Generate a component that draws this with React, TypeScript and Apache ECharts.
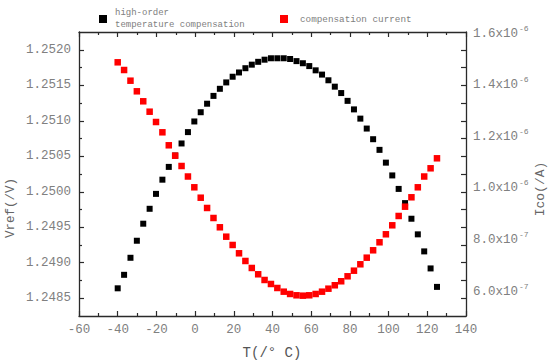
import React, { useEffect, useRef } from "react";
import * as echarts from "echarts";

const temps = [
  -40, -36.7, -33.4, -30.1, -26.8, -23.5, -20.2, -16.9, -13.6, -10.3, -7, -3.7, -0.4, 2.9, 6.2, 9.5, 12.8,
  16.1, 19.4, 22.7, 26, 29.3, 32.6, 35.9, 39.2, 42.5, 45.8, 49.1, 52.4, 55.7, 59, 62.3, 65.6, 68.9, 72.2,
  75.5, 78.8, 82.1, 85.4, 88.7, 92, 95.3, 98.6, 101.9, 105.2, 108.5, 111.8, 115.1, 118.4, 121.7, 125,
];

const vrefValues = [
  1.24864, 1.24883, 1.24907, 1.24931, 1.24955, 1.24976, 1.24997, 1.25017, 1.25035, 1.25051, 1.25068,
  1.25084, 1.25099, 1.25112, 1.25124, 1.25135, 1.25145, 1.25154, 1.25162, 1.25168, 1.25174, 1.25179,
  1.25183, 1.25186, 1.25188, 1.25188, 1.25188, 1.25187, 1.25184, 1.25181, 1.25177, 1.25171, 1.25165,
  1.25157, 1.25148, 1.25139, 1.25128, 1.25116, 1.25103, 1.25089, 1.25074, 1.25059, 1.25041, 1.25023,
  1.25004, 1.24984, 1.24962, 1.2494, 1.24916, 1.24892, 1.24866,
];

const icoValues = [
  1.4826e-6, 1.4528e-6, 1.4114e-6, 1.3703e-6, 1.3316e-6, 1.2913e-6, 1.2514e-6, 1.2115e-6, 1.1612e-6,
  1.1209e-6, 1.081e-6, 1.0403e-6, 0.9985e-6, 0.9582e-6, 0.9184e-6, 0.8796e-6, 0.8436e-6, 0.8072e-6,
  0.7751e-6, 0.7429e-6, 0.7131e-6, 0.686e-6, 0.6616e-6, 0.6395e-6, 0.624e-6, 0.6085e-6, 0.5942e-6,
  0.5853e-6, 0.5802e-6, 0.5787e-6, 0.5802e-6, 0.5853e-6, 0.5942e-6, 0.6058e-6, 0.619e-6, 0.6345e-6,
  0.6538e-6, 0.6755e-6, 0.7003e-6, 0.7259e-6, 0.7545e-6, 0.7855e-6, 0.8165e-6, 0.8513e-6, 0.8874e-6,
  0.9234e-6, 0.9598e-6, 0.9985e-6, 1.0403e-6, 1.0721e-6, 1.1108e-6,
];

const leftMajorTicks = [1.2485, 1.249, 1.2495, 1.25, 1.2505, 1.251, 1.2515, 1.252];
const leftMinorTicks = [1.24875, 1.24925, 1.24975, 1.25025, 1.25075, 1.25125, 1.25175];
const rightTickValues = [6e-7, 8e-7, 1e-6, 1.2e-6, 1.4e-6, 1.6e-6];
const rightTickMantissa = ["6.0", "8.0", "1.0", "1.2", "1.4", "1.6"];
const rightTickExponent = ["-7", "-7", "-6", "-6", "-6", "-6"];

const seriesNames = ["high-order temperature compensation", "compensation current"];

const FONT = "'Liberation Mono', 'DejaVu Sans Mono', monospace";
const AXIS_COLOR = "#2a2a2a";
const LABEL_COLOR = "#808080";

export default function App() {
  const ref = useRef<HTMLDivElement>(null);

  useEffect(() => {
    if (!ref.current) return;
    const chart = echarts.init(ref.current, undefined, { renderer: "svg" });

    const axisLine = { show: true, onZero: false, lineStyle: { color: AXIS_COLOR, width: 1.3 } };
    const xCommon = {
      type: "value",
      min: -60,
      max: 140,
      interval: 20,
      axisLine,
      axisTick: { show: true, inside: true, length: 5, lineStyle: { color: AXIS_COLOR, width: 1.2 } },
      minorTick: { show: true, splitNumber: 2, length: 3, lineStyle: { color: AXIS_COLOR, width: 1.2 } },
      splitLine: { show: false },
      minorSplitLine: { show: false },
    };

    const option: any = {
      animation: false,
      backgroundColor: "#ffffff",
      grid: { left: 79, right: 84, top: 32, bottom: 48, containLabel: false },
      legend: [
        {
          data: [seriesNames[0]],
          left: 94,
          top: 2,
          icon: "rect",
          itemWidth: 8,
          itemHeight: 8,
          formatter: () => "high-order\ntemperature compensation",
          textStyle: { fontFamily: FONT, fontSize: 9, color: "#808080", lineHeight: 12, padding: [0, 0, 0, 3] },
        },
        {
          data: [seriesNames[1]],
          left: 275,
          top: 8,
          icon: "rect",
          itemWidth: 8,
          itemHeight: 8,
          textStyle: { fontFamily: FONT, fontSize: 9.3, color: "#808080", lineHeight: 12, padding: [0, 0, 0, 7] },
        },
      ],
      xAxis: [
        {
          ...xCommon,
          position: "bottom",
          axisLabel: { show: true, margin: 7, color: LABEL_COLOR, fontFamily: FONT, fontSize: 12.5 },
        },
        {
          ...xCommon,
          position: "top",
          axisLabel: { show: false },
        },
      ],
      yAxis: [
        {
          type: "value",
          position: "left",
          min: 1.24825,
          max: 1.25225,
          axisLine,
          axisTick: {
            show: true,
            inside: true,
            length: 5,
            customValues: leftMajorTicks,
            lineStyle: { color: AXIS_COLOR, width: 1.2 },
          },
          axisLabel: {
            show: true,
            margin: 8,
            customValues: leftMajorTicks,
            color: LABEL_COLOR,
            fontFamily: FONT,
            fontSize: 12.5,
            formatter: (v: number) => v.toFixed(4),
          },
          splitLine: { show: false },
        },
        {
          type: "value",
          position: "right",
          min: 0.5e-6,
          max: 1.6e-6,
          axisLine,
          axisTick: { show: false },
          axisLabel: {
            show: true,
            margin: 7,
            customValues: rightTickValues,
            color: LABEL_COLOR,
            fontFamily: FONT,
            fontSize: 12.5,
            formatter: (v: number) => {
              let i = 0;
              let best = Infinity;
              rightTickValues.forEach((t, k) => {
                const d = Math.abs(t - v);
                if (d < best) {
                  best = d;
                  i = k;
                }
              });
              return `{m|${rightTickMantissa[i]}x10}{e|${rightTickExponent[i]}}`;
            },
            rich: {
              m: { fontFamily: FONT, fontSize: 12.5, color: LABEL_COLOR, lineHeight: 16, verticalAlign: "bottom" },
              e: { fontFamily: FONT, fontSize: 8, color: LABEL_COLOR, lineHeight: 16, verticalAlign: "top", padding: [0, 0, 0, 1] },
            },
          },
          splitLine: { show: false },
        },
        {
          type: "value",
          position: "left",
          min: 1.24825,
          max: 1.25225,
          axisLine: { show: false, onZero: false },
          axisTick: {
            show: true,
            inside: true,
            length: 3,
            customValues: leftMinorTicks,
            lineStyle: { color: AXIS_COLOR, width: 1.2 },
          },
          axisLabel: { show: false },
          splitLine: { show: false },
        },
        {
          type: "value",
          position: "right",
          min: 1.24825,
          max: 1.25225,
          axisLine: { show: false, onZero: false },
          axisTick: {
            show: true,
            inside: true,
            length: 5,
            customValues: [...leftMajorTicks, ...leftMinorTicks],
            lineStyle: { color: AXIS_COLOR, width: 1.2 },
          },
          axisLabel: { show: false },
          splitLine: { show: false },
        },
      ],
      series: [
        {
          name: seriesNames[0],
          type: "scatter",
          xAxisIndex: 0,
          yAxisIndex: 0,
          symbol: "rect",
          symbolSize: 6,
          itemStyle: { color: "#000000", opacity: 1 },
          data: temps.map((t, i) => [t, vrefValues[i]]),
        },
        {
          name: seriesNames[1],
          type: "scatter",
          xAxisIndex: 0,
          yAxisIndex: 1,
          symbol: "rect",
          symbolSize: 6.5,
          itemStyle: { color: "#ff0000", opacity: 1 },
          data: temps.map((t, i) => [t, icoValues[i]]),
        },
      ],
      graphic: [
        {
          type: "text",
          x: 272,
          y: 353,
          style: {
            text: "T(/° C)",
            fontFamily: FONT,
            fontSize: 14,
            fill: "#555",
            align: "center",
            verticalAlign: "middle",
          },
        },
        {
          type: "text",
          x: 11,
          y: 208,
          rotation: Math.PI / 2,
          style: {
            text: "Vref(/V)",
            fontFamily: FONT,
            fontSize: 12.5,
            fill: "#666",
            align: "center",
            verticalAlign: "middle",
          },
        },
        {
          type: "text",
          x: 540,
          y: 189,
          rotation: Math.PI / 2,
          style: {
            text: "Ico(/A)",
            fontFamily: FONT,
            fontSize: 13,
            fill: "#666",
            align: "center",
            verticalAlign: "middle",
          },
        },
      ],
    };

    chart.setOption(option);
    return () => chart.dispose();
  }, []);

  return (
    <div
      ref={ref}
      style={{ position: "absolute", left: 0, top: 0, width: 550, height: 364, background: "#fff" }}
    />
  );
}
